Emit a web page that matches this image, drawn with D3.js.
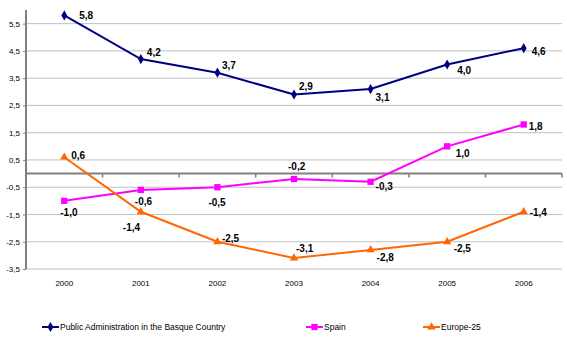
<!DOCTYPE html>
<html><head><meta charset="utf-8">
<script src="https://cdn.jsdelivr.net/npm/d3@7"></script>
<style>
body{margin:0;background:#fff;}
svg{display:block;font-family:"Liberation Sans",Arial,sans-serif;}
</style></head>
<body><svg id="c" width="567" height="356"></svg>
<script>
const years = ["2000","2001","2002","2003","2004","2005","2006"];
const basque = [5.8, 4.2, 3.7, 2.9, 3.1, 4.0, 4.6];
const spain = [-1.0, -0.6, -0.5, -0.2, -0.3, 1.0, 1.8];
const europe = [0.6, -1.4, -2.5, -3.1, -2.8, -2.5, -1.4];
const yTicks = [5.5, 4.5, 3.5, 2.5, 1.5, 0.5, -0.5, -1.5, -2.5, -3.5];
const seriesNames = ["Public Administration in the Basque Country", "Spain", "Europe-25"];

// label offsets (dx, dy of text start/centre relative to point)
const offBasque = [[15,0],[6,-6.5],[4.5,-7],[5,-8],[5,8],[10,6],[8,3]];
const offSpain = [[-4,12],[-6,12],[-9,15],[-6,-13],[5,5],[8.5,7.5],[5,2]];
const offEurope = [[7,-2],[-18,16],[4.5,-3],[2,-10],[6,8],[6.5,7],[6,1]];

const svg = d3.select("#c");
const L = 26, R = 562, T = 10, B = 269;
const x = d3.scaleBand().domain(years).range([L, R]);
const y = d3.scaleLinear().domain([-3.5, 6]).range([B, T]);
const fmt = v => d3.format(".1f")(v).replace(".", ",").replace("−","-");

// gridlines
svg.append("g").selectAll("line").data(yTicks).join("line")
  .attr("x1", L).attr("x2", R).attr("y1", d => y(d)).attr("y2", d => y(d))
  .attr("stroke", "#c0c0c0").attr("stroke-width", 1);

// y axis
const yAxis = d3.axisLeft(y).tickValues(yTicks).tickSize(3).tickFormat(fmt);
const gy = svg.append("g").attr("transform", `translate(${L},0)`).call(yAxis);
gy.select(".domain").remove();
gy.selectAll(".tick line").attr("stroke", "#808080");
gy.selectAll(".tick text").attr("font-size", 8).attr("fill", "#000")
  .attr("font-family", "Liberation Sans, Arial, sans-serif").attr("x", -6);
svg.append("line").attr("x1", L).attr("x2", L).attr("y1", T).attr("y2", B)
  .attr("stroke", "#808080").attr("stroke-width", 2);

// zero axis with ticks at band boundaries
const y0 = y(0);
svg.append("line").attr("x1", L).attr("x2", R).attr("y1", y0).attr("y2", y0)
  .attr("stroke", "#808080").attr("stroke-width", 2);
const bounds = years.map(d => x(d) + x.bandwidth());
svg.append("g").selectAll("line").data(bounds).join("line")
  .attr("x1", d => d).attr("x2", d => d).attr("y1", y0).attr("y2", y0 + 4)
  .attr("stroke", "#808080").attr("stroke-width", 1.5);

// year labels
svg.append("g").selectAll("text").data(years).join("text")
  .attr("x", d => x(d) + x.bandwidth() / 2).attr("y", 286)
  .attr("text-anchor", "middle").attr("font-size", 8).text(d => d);

const cx = d => x(d) + x.bandwidth() / 2;
const series = [
  {name: seriesNames[0], vals: basque, color: "#000080", sym: d3.symbolDiamond, size: 30, off: offBasque},
  {name: seriesNames[1], vals: spain, color: "#FF00FF", sym: d3.symbolSquare, size: 40, off: offSpain},
  {name: seriesNames[2], vals: europe, color: "#FF6600", sym: d3.symbolTriangle, size: 30, off: offEurope}
];
const line = d3.line().x((d, i) => cx(years[i])).y(d => y(d));
series.forEach(s => {
  svg.append("path").attr("d", line(s.vals)).attr("fill", "none")
    .attr("stroke", s.color).attr("stroke-width", 2);
  svg.append("g").selectAll("path").data(s.vals).join("path")
    .attr("d", d3.symbol().type(s.sym).size(s.size))
    .attr("transform", (d, i) => `translate(${cx(years[i])},${y(d)})`)
    .attr("fill", s.color);
  svg.append("g").selectAll("text").data(s.vals).join("text")
    .attr("x", (d, i) => cx(years[i]) + s.off[i][0])
    .attr("y", (d, i) => y(d) + s.off[i][1])
    .attr("dominant-baseline", "central")
    .attr("font-size", 10).attr("font-weight", "bold").attr("fill", "#000")
    .text(d => fmt(d));
});

// legend
const legX = [42, 306, 423];
const legY = 327;
series.forEach((s, i) => {
  const g = svg.append("g").attr("transform", `translate(${legX[i]},${legY})`);
  g.append("line").attr("x1", 0).attr("x2", 17).attr("y1", 0).attr("y2", 0)
    .attr("stroke", s.color).attr("stroke-width", 2);
  g.append("path").attr("d", d3.symbol().type(s.sym).size(s.size)).attr("transform", "translate(8.5,0)")
    .attr("fill", s.color);
  g.append("text").attr("x", 18).attr("y", 0).attr("dominant-baseline", "central")
    .attr("font-size", 8.5).text(s.name);
});
</script></body></html>
